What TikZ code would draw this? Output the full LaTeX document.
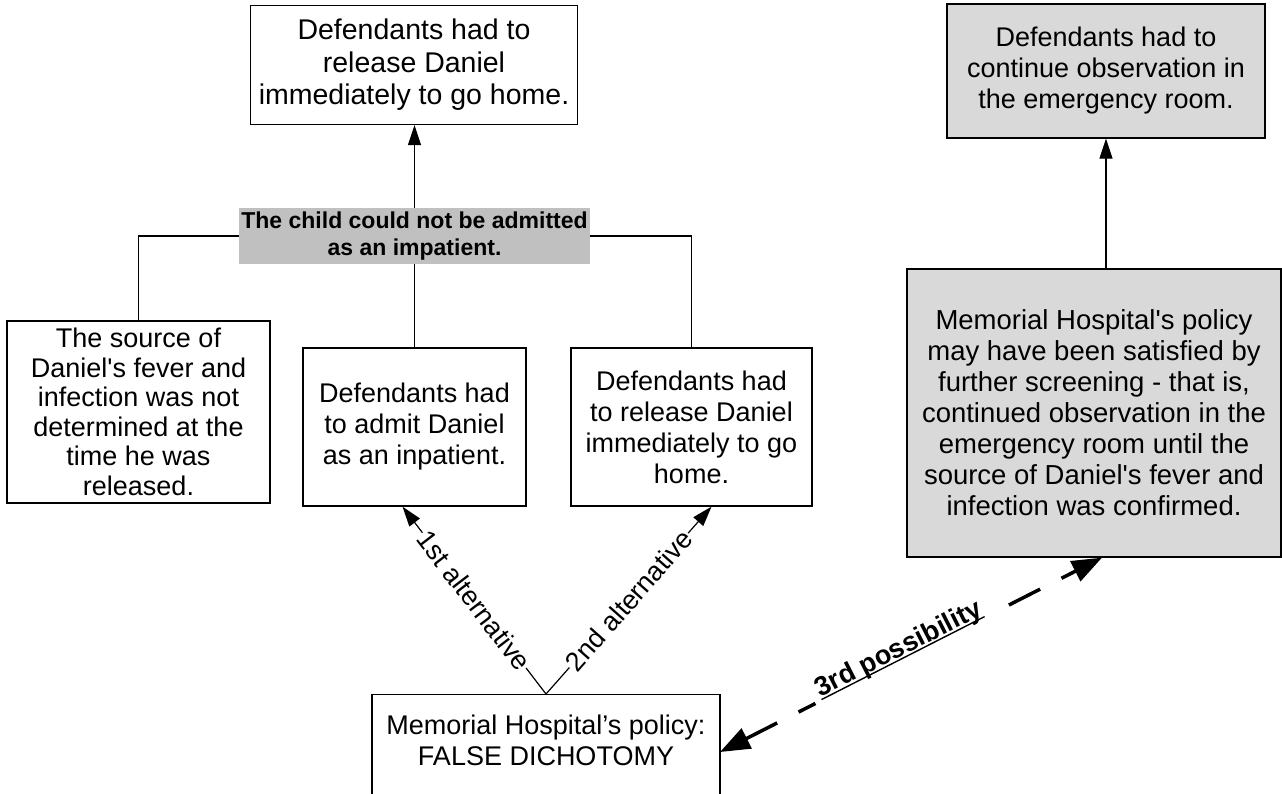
\documentclass[tikz,border=0pt]{standalone}
\usepackage{fontspec}
\setmainfont{Liberation Sans}
\usetikzlibrary{arrows.meta}
\definecolor{boxgray}{RGB}{217,217,217}
\definecolor{labgray}{RGB}{192,192,192}
\newcommand\myuline[1]{\setbox0\hbox{#1}\rlap{\rule[-3pt]{\wd0}{1.4pt}}\box0}
\begin{document}
\begin{tikzpicture}[x=1pt,y=-1pt,
  box/.style={draw, line width=1.3pt, rectangle, inner sep=0pt, align=center, font=\fontsize{27}{31}\selectfont},
  conn/.style={line width=1.2pt},
  arr/.style={conn, -{Triangle[length=20pt,width=13pt]}},
  altlabel/.style={sloped, fill=white, inner sep=1pt, font=\fontsize{27}{31}\selectfont},
  dasharr/.style={line width=3.5pt, dash pattern=on 35pt off 24pt, {Triangle[length=30pt,width=22pt]}-{Triangle[length=30pt,width=22pt]}},
  posslabel/.style={sloped, anchor=base, fill=white, inner xsep=7pt, inner ysep=2pt, font=\fontsize{27}{31}\selectfont\bfseries},
]
\useasboundingbox (0,0) rectangle (1282,793);

\node[box, minimum width=327, minimum height=119, font=\fontsize{28.5}{32.5}\selectfont] (tl) at (414,65)
  {Defendants had to\\release Daniel\\immediately to go home.};
\node[box, fill=boxgray, minimum width=318, minimum height=134] (tr) at (1106,71)
  {Defendants had to\\continue observation in\\the emergency room.};
\node[rectangle, fill=labgray, inner sep=0pt, align=center, minimum width=351, minimum height=56,
  font=\fontsize{23}{27}\selectfont\bfseries] (lab) at (414.5,236)
  {The child could not be admitted\\as an impatient.};
\node[box, minimum width=263, minimum height=182, font=\fontsize{27}{29.5}\selectfont] (L) at (138.5,412)
  {The source of\\Daniel\textquotesingle s fever and\\infection was not\\determined at the\\time he was\\released.};
\node[box, minimum width=223, minimum height=158] (M) at (414.5,427)
  {Defendants had\\to admit Daniel\\as an inpatient.};
\node[box, minimum width=241, minimum height=158] (R) at (691.5,427)
  {Defendants had\\to release Daniel\\immediately to go\\home.};
\node[box, fill=boxgray, minimum width=374, minimum height=288, font=\fontsize{27.5}{31}\selectfont] (RB) at (1094,413)
  {Memorial Hospital\textquotesingle s policy\\may have been satisfied by\\further screening - that is,\\continued observation in the\\emergency room until the\\source of Daniel\textquotesingle s fever and\\infection was confirmed.};
\node[box, anchor=north, minimum width=348, minimum height=130] (B) at (546,694) {};
\node[align=center, inner sep=0pt, font=\fontsize{27}{31}\selectfont] (Btxt) at (546,740)
  {Memorial Hospital’s policy:\\FALSE DICHOTOMY};

\draw[arr] (lab.north) -- (lab.north |- tl.south);
\draw[conn] (lab.south) -- (M.north);
\draw[conn] (L.north) |- (lab.west);
\draw[conn] (R.north) |- (lab.east);
\draw[arr] (RB.north -| tr.south) -- (tr.south);

\draw[arr] (B.north) -- node[altlabel]{1st alternative} ([xshift=-12pt]M.south);
\draw[arr] (B.north) -- node[altlabel]{2nd alternative} ([xshift=20pt]R.south);

\coordinate (Bend) at (720,752);
\draw[dasharr] (Bend) -- node[pos=0.48, posslabel]{\raisebox{3pt}{\myuline{3rd possibility}}} ([xshift=8pt]RB.south);
\end{tikzpicture}
\end{document}
